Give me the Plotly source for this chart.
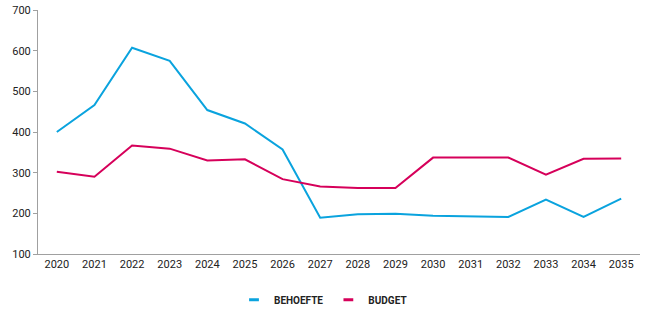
import plotly.graph_objects as go

years = [str(y) for y in range(2020, 2036)]
behoefte = [400, 466, 607, 575, 454, 421, 357, 189, 198, 199, 194, 193, 191, 234, 191, 236]
budget = [302, 290, 367, 359, 330, 333, 284, 266, 262, 262, 337, 337, 337, 295, 334, 335]

blue = "#0AA3DE"
pink = "#D6005A"

fig = go.Figure()
fig.add_trace(go.Scatter(x=years, y=behoefte, mode="lines", name="BEHOEFTE",
                         line=dict(color=blue, width=2), showlegend=False,
                         legendgroup="b"))
fig.add_trace(go.Scatter(x=years, y=budget, mode="lines", name="BUDGET",
                         line=dict(color=pink, width=2), showlegend=False,
                         legendgroup="u"))
# legend entries with short line glyphs
fig.add_trace(go.Scatter(x=[None], y=[None], mode="markers", name="BEHOEFTE",
                         legendgroup="b",
                         marker=dict(symbol="line-ew-open", size=7, color=blue,
                                     line=dict(color=blue, width=3))))
fig.add_trace(go.Scatter(x=[None], y=[None], mode="markers", name="BUDGET",
                         legendgroup="u",
                         marker=dict(symbol="line-ew-open", size=7, color=pink,
                                     line=dict(color=pink, width=3))))

fig.update_layout(
    width=646, height=323,
    margin=dict(l=38, r=6, t=10, b=69, autoexpand=False),
    paper_bgcolor="white", plot_bgcolor="white",
    font=dict(family="Roboto", size=11, color="#222"),
    showlegend=True,
    legend=dict(orientation="h", xref="container", x=0.5, xanchor="center",
                y=-0.128, yanchor="top",
                font=dict(size=10, color="#222", family="Roboto", weight="bold"),
                itemwidth=30, tracegroupgap=0),
)
fig.update_xaxes(type="category", range=[-0.5, 15.5], showgrid=False, showline=True,
                 linecolor="#A0A0A0", linewidth=1, ticks="", tickfont=dict(size=11),
                 automargin=False)
fig.update_yaxes(range=[100, 700], dtick=100, showgrid=False, showline=True,
                 linecolor="#A0A0A0", linewidth=1, ticks="outside", ticklen=4,
                 tickcolor="#A0A0A0", zeroline=False, tickfont=dict(size=11),
                 automargin=False)

fig.write_html("out.html", config={"displayModeBar": False},
               post_script="document.body.style.margin='0';")
